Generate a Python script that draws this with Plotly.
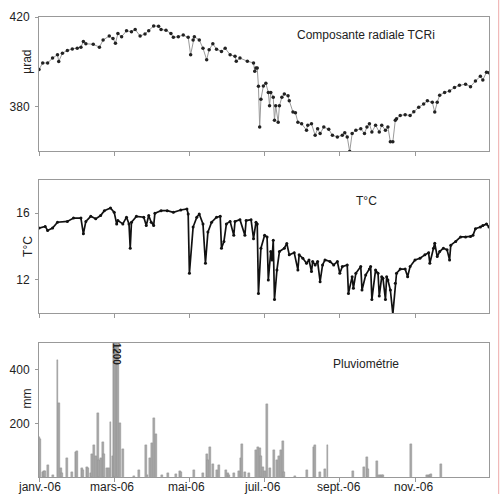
import pandas as pd
import plotly.graph_objects as go

# ---- data (day offsets from 2006-01-01) ----
tcri_day = [0, 3, 7, 11, 15, 16, 19, 23, 27, 31, 34, 36, 38, 44, 49, 52, 57, 60, 62, 64, 67, 71, 75, 78, 82, 86, 89, 93, 97, 99,
            103, 107, 109, 113, 117, 121, 123, 125, 126, 130, 133, 136, 138, 141, 144, 148, 151, 155, 159, 160, 163, 169, 174, 175, 176,
            177, 178, 179, 180, 182, 184, 186, 187, 188, 190, 191, 192, 194, 195, 197, 199, 202, 203, 206, 208, 210, 213, 217, 218, 221,
            224, 226, 228, 231, 235, 238, 242, 246, 248, 250, 252, 254, 257, 261, 264, 266, 268, 270, 273, 276, 278, 281, 283, 285, 287,
            289, 290, 293, 297, 301, 304, 308, 312, 315, 319, 321, 323, 325, 329, 333, 337, 341, 346, 350, 354, 358, 360, 363, 365]
tcri_val = [396.5, 399.4, 399.4, 401.6, 403.1, 400.1, 403.8, 405.0, 405.7, 406.0, 406.5, 409.0, 408.0, 407.8, 406.5, 409.7, 411.5, 410.4, 408.2, 412.6,
            411.2, 413.8, 413.4, 414.4, 411.5, 412.4, 413.8, 416.0, 415.9, 414.4, 414.1, 412.6, 410.9, 411.2, 411.9, 410.9, 403.1, 409.7, 411.2, 409.7,
            406.0, 400.9, 405.3, 408.0, 405.6, 404.6, 406.0, 403.1, 402.4, 400.2, 401.6, 400.2, 399.4, 395.7, 397.2, 397.2, 389.0, 370.7, 383.2, 389.1,
            390.3, 386.2, 380.3, 386.2, 384.0, 373.7, 380.3, 372.9, 380.3, 384.0, 385.5, 384.7, 382.5, 377.4, 377.1, 372.9, 372.2, 369.3, 371.5, 372.2,
            367.0, 370.0, 367.8, 370.7, 369.7, 367.0, 366.3, 367.0, 368.2, 366.3, 359.7, 367.8, 369.3, 370.0, 367.8, 370.7, 372.2, 368.5, 371.5, 368.5,
            371.5, 369.3, 370.7, 364.1, 364.1, 373.7, 374.4, 375.9, 376.2, 375.9, 377.6, 379.6, 381.0, 382.5, 381.8, 377.4, 381.8, 385.0, 386.2, 386.9,
            388.4, 389.4, 389.9, 388.8, 391.3, 393.5, 391.8, 395.3, 395.0]

temp_day = [0, 5, 7, 11, 15, 23, 28, 34, 36, 38, 42, 46, 50, 53, 58, 61, 63, 64, 68, 71, 73, 74, 75, 79, 85, 87, 89, 91, 93, 94,
            99, 104, 109, 115, 120, 121, 122, 125, 128, 130, 133, 135, 137, 140, 144, 147, 148, 150, 152, 155, 158, 159, 163, 167, 168,
            172, 174, 176, 177, 178, 180, 183, 185, 186, 188, 189, 190, 191, 193, 195, 199, 201, 203, 207, 210, 211, 214, 217, 219, 221,
            222, 224, 226, 228, 230, 232, 236, 239, 242, 244, 246, 250, 251, 254, 255, 257, 261, 262, 265, 268, 269, 270, 273, 275, 276,
            278, 279, 281, 282, 283, 285, 287, 289, 290, 293, 297, 299, 301, 305, 309, 313, 316, 317, 320, 321, 323, 325, 328, 331, 333,
            334, 338, 342, 346, 350, 352, 354, 358, 360, 363, 365]
temp_val = [15.1, 15.2, 14.96, 15.1, 15.45, 15.5, 15.7, 15.7, 14.76, 15.5, 15.8, 15.65, 15.85, 16.14, 16.3, 16.04, 15.35, 15.55, 15.35, 15.75,
            15.35, 13.9, 15.45, 15.8, 15.75, 15.25, 15.85, 15.45, 15.25, 15.98, 16.14, 16.14, 16.04, 16.18, 16.24, 15.94, 12.4, 15.16, 15.75, 15.94,
            15.35, 13.0, 14.86, 15.45, 15.75, 15.8, 13.9, 14.3, 15.35, 15.5, 14.67, 15.5, 15.6, 14.67, 15.55, 15.6, 14.47, 15.45, 15.35, 11.2,
            13.9, 14.67, 14.57, 12.0, 13.7, 13.2, 14.37, 10.84, 12.6, 13.7, 13.9, 14.18, 13.5, 13.63, 12.6, 13.5, 13.3, 13.0, 13.2, 12.5,
            13.1, 12.9, 13.1, 11.9, 12.9, 13.2, 13.1, 12.9, 13.1, 12.4, 12.8, 12.9, 11.2, 12.2, 11.5, 12.4, 12.8, 11.4, 12.3, 12.65,
            12.8, 10.84, 12.6, 12.4, 11.04, 12.2, 12.1, 10.84, 12.2, 12.0, 11.4, 9.96, 11.8, 12.4, 12.65, 12.65, 12.2, 12.8, 13.2, 13.3,
            13.5, 13.63, 13.0, 13.9, 14.2, 13.4, 13.7, 13.9, 13.8, 13.2, 14.08, 14.3, 14.57, 14.57, 14.6, 14.67, 15.06, 15.16, 15.25, 15.35,
            15.16]

rain_day = [0, 1, 3, 4, 5, 7, 11, 15, 16, 18, 19, 23, 27, 30, 31, 35, 36, 39, 40, 42, 43, 45, 46, 48, 49, 50, 52, 53, 55, 57,
            58, 60, 61, 62, 63, 64, 66, 68, 77, 81, 87, 88, 90, 92, 93, 95, 100, 105, 111, 114, 115, 126, 133, 136, 137, 139, 141, 144,
            146, 152, 153, 154, 158, 162, 164, 165, 167, 170, 176, 178, 179, 180, 182, 183, 185, 187, 191, 193, 195, 196, 198, 199, 208,
            217, 223, 224, 228, 232, 234, 255, 264, 266, 267, 274, 276, 277, 278, 279, 302, 315, 316, 317, 318, 326]
rain_val = [148, 140, 20, 22, 22, 44, 7, 438, 277, 32, 13, 71, 20, 95, 98, 32, 25, 37, 33, 13, 87, 120, 80, 240, 65, 72, 130, 87, 32, 33,
            206, 80, 560, 900, 1200, 620, 202, 106, 5, 25, 120, 8, 72, 127, 219, 160, 8, 13, 10, 23, 20, 25, 13, 86, 63, 111, 50, 25,
            44, 25, 15, 8, 13, 23, 69, 124, 20, 13, 99, 110, 108, 80, 37, 23, 271, 32, 99, 65, 80, 99, 135, 20, 4,
            25, 111, 120, 17, 30, 120, 22, 38, 75, 30, 59, 7, 7, 7, 7, 124, 8, 8, 8, 11, 48]

month_labels = ["janv.-06", "mars-06", "mai-06", "juil.-06", "sept.-06", "nov.-06"]
month_starts = ["2006-01-01", "2006-03-01", "2006-05-01", "2006-07-01", "2006-09-01", "2006-11-01"]
tick_days = [0, 61, 122, 183, 244, 305]

base = pd.Timestamp("2006-01-01")
def to_dates(days):
    return [base + pd.Timedelta(days=d) for d in days]

FONT = "Liberation Sans, Arial, sans-serif"
AX = "#999999"

fig = go.Figure()
fig.add_trace(go.Scatter(x=to_dates(tcri_day), y=tcri_val, mode="lines+markers",
                         line=dict(color="#9a9a9a", width=1), marker=dict(color="#222222", size=3.5),
                         xaxis="x", yaxis="y", showlegend=False))
fig.add_trace(go.Scatter(x=to_dates(temp_day), y=temp_val, mode="lines+markers",
                         line=dict(color="#111111", width=1.7), marker=dict(color="#111111", size=3),
                         xaxis="x2", yaxis="y2", showlegend=False))
fig.add_trace(go.Bar(x=to_dates(rain_day), y=rain_val, width=86400000 * 1.6,
                     marker=dict(color="#a8a8a8", line=dict(color="#8a8a8a", width=0.4)),
                     xaxis="x3", yaxis="y3", showlegend=False))

xr = ["2006-01-01", "2007-01-01"]
xcommon = dict(range=xr, type="date", tickvals=to_dates(tick_days), showticklabels=False,
               ticks="outside", ticklen=4, tickcolor=AX, showline=True, linecolor=AX, linewidth=1,
               mirror=True, showgrid=False, zeroline=False)
ycommon = dict(ticks="outside", ticklen=3, tickcolor=AX, showline=True, linecolor=AX, linewidth=1,
               mirror=True, showgrid=False, zeroline=False, ticklabelstandoff=3,
               tickfont=dict(family=FONT, size=12, color="#222222"))

fig.update_layout(
    width=502, height=494,
    margin=dict(l=24, r=13, t=10, b=17),
    paper_bgcolor="white", plot_bgcolor="white",
    font=dict(family=FONT, size=12, color="#222222"),
    bargap=0,
    xaxis=dict(domain=[0, 1], anchor="y", **xcommon),
    xaxis2=dict(domain=[0, 1], anchor="y2", **xcommon),
    xaxis3=dict(domain=[0, 1], anchor="y3", **xcommon),
    yaxis=dict(domain=[0.7088, 1.0], anchor="x", range=[360, 420], tickvals=[380, 420], **ycommon),
    yaxis2=dict(domain=[0.3555, 0.6467], anchor="x2", range=[10, 18], tickvals=[12, 16], **ycommon),
    yaxis3=dict(domain=[0.0, 0.2912], anchor="x3", range=[0, 500], tickvals=[200, 400], **ycommon),
)

ann = []
# panel titles
for txt, yp in [("Composante radiale TCRi", 0.9615), ("T°C", 0.5996), ("Pluviométrie", 0.2463)]:
    ann.append(dict(text=txt, xref="paper", yref="paper", x=0.727, y=yp, showarrow=False,
                    font=dict(family=FONT, size=12, color="#222222"), xanchor="center", yanchor="middle"))
# axis titles
for txt, yp in [("µrad", 0.9036), ("T°C", 0.501), ("mm", 0.1713)]:
    ann.append(dict(text=txt, xref="paper", yref="paper", x=-0.0258, y=yp, showarrow=False, textangle=-90,
                    font=dict(family=FONT, size=12, color="#222222"), xanchor="center", yanchor="middle"))
# month labels
for lab, d in zip(month_labels, month_starts):
    ann.append(dict(text=lab, xref="x3", yref="paper", x=d, y=-0.0214, showarrow=False,
                    font=dict(family=FONT, size=12, color="#222222"), xanchor="center", yanchor="middle"))
# off-scale value label
ann.append(dict(text="<b>1200</b>", xref="x3", yref="y3", x=base + pd.Timedelta(days=63), y=458,
                showarrow=False, textangle=90, font=dict(family=FONT, size=10, color="#222222"),
                xanchor="center", yanchor="middle"))
fig.update_layout(annotations=ann)

fig.add_shape(type="line", xref="paper", yref="paper", x0=1.0215, x1=1.0215, y0=-0.05, y1=1.05,
              line=dict(color="#eeaaaa", width=1))

fig.write_html("out.html")
